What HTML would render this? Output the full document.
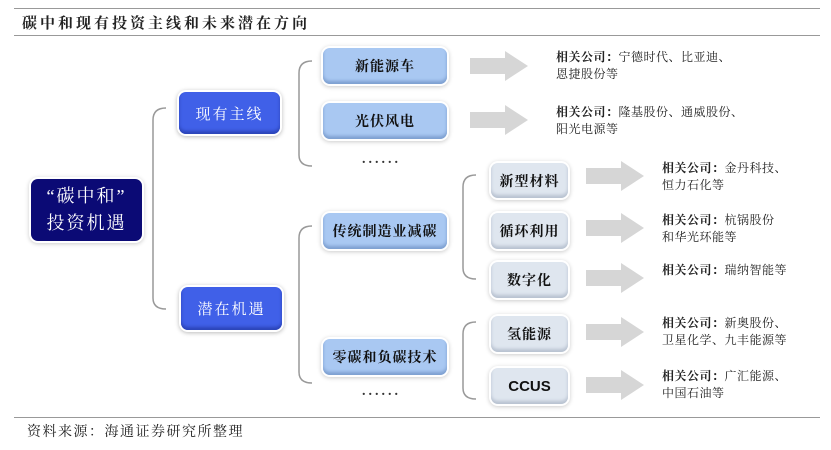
<!DOCTYPE html>
<html><head><meta charset="utf-8"><style>
body{margin:0;width:831px;height:450px;background:#fff;position:relative;overflow:hidden;font-family:"Liberation Serif","Noto Serif CJK SC",serif}
.a{position:absolute}
.b{position:absolute;display:flex;align-items:center;justify-content:center;border-radius:7px;font-weight:bold;font-size:14px;letter-spacing:1px;box-shadow:0 0 0 2px #fff,0 1px 4px 2px #ccc}
.dk{background:#0b0a75;color:#fff;font-size:18px;letter-spacing:2px;line-height:27px;text-align:center;font-weight:normal}
.md{background:#4060e8;color:#fff;font-size:15px;letter-spacing:2px;font-weight:normal;box-shadow:0 0 0 2px #fff,0 1px 4px 2px #bbb,inset 0 -3px 3px #2b44b8}
.lt{background:#a9c8f2;color:#111;box-shadow:0 0 0 2px #fff,0 1px 4px 2px #ccc,inset 0 -3px 3px #7d9fd0}
.gy{background:#dfe6ef;color:#111;box-shadow:0 0 0 2px #fff,0 1px 4px 2px #ccc,inset 0 -3px 3px #b8c2d0}
.t{position:absolute;font-size:12px;line-height:17px;color:#222;letter-spacing:0.5px}
.t b{font-weight:bold}
.dots{position:absolute;font-size:14px;letter-spacing:3px;color:#333;font-weight:bold}
</style></head><body>
<div class="a" style="left:14px;top:8px;width:806px;height:1px;background:#999"></div>
<div class="a" style="left:22px;top:12px;font-size:15px;letter-spacing:3px;font-weight:bold;color:#222">碳中和现有投资主线和未来潜在方向</div>
<div class="a" style="left:14px;top:35px;width:806px;height:1px;background:#999"></div>

<svg class="a" style="left:0;top:0" width="831" height="450">
<g fill="none" stroke="#999" stroke-width="1.5">
<path d="M166 108 Q153 108 153 120 L153 298 Q153 309 166 309"/>
<path d="M312 61 Q299 61 299 73 L299 155 Q299 166 312 166"/>
<path d="M312 226 Q299 226 299 238 L299 372 Q299 383 312 383"/>
<path d="M476 175 Q463 175 463 187 L463 268 Q463 279 476 279"/>
<path d="M476 322 Q463 322 463 334 L463 388 Q463 399 476 399"/>
</g>
<g fill="#d6d6d6">
<path d="M470 58 H505 V51 L528 66 L505 81 V74 H470Z"/>
<path d="M470 112 H505 V105 L528 120 L505 135 V128 H470Z"/>
<path d="M586 168 H621 V161 L644 176 L621 191 V184 H586Z"/>
<path d="M586 220 H621 V213 L644 228 L621 243 V236 H586Z"/>
<path d="M586 270 H621 V263 L644 278 L621 293 V286 H586Z"/>
<path d="M586 324 H621 V317 L644 332 L621 347 V340 H586Z"/>
<path d="M586 377 H621 V370 L644 385 L621 400 V393 H586Z"/>
</g>
</svg>

<div class="b dk" style="left:31px;top:179px;width:111px;height:62px">“碳中和”<br>投资机遇</div>
<div class="b md" style="left:179px;top:92px;width:101px;height:42px">现有主线</div>
<div class="b md" style="left:181px;top:287px;width:101px;height:43px">潜在机遇</div>

<div class="b lt" style="left:323px;top:48px;width:124px;height:36px">新能源车</div>
<div class="b lt" style="left:323px;top:103px;width:124px;height:36px">光伏风电</div>
<div class="dots" style="left:362px;top:152px">......</div>
<div class="b lt" style="left:323px;top:213px;width:124px;height:36px">传统制造业减碳</div>
<div class="b lt" style="left:323px;top:339px;width:124px;height:36px">零碳和负碳技术</div>
<div class="dots" style="left:362px;top:384px">......</div>

<div class="b gy" style="left:491px;top:163px;width:77px;height:35px">新型材料</div>
<div class="b gy" style="left:491px;top:213px;width:77px;height:36px">循环利用</div>
<div class="b gy" style="left:491px;top:262px;width:77px;height:36px">数字化</div>
<div class="b gy" style="left:491px;top:316px;width:77px;height:36px">氢能源</div>
<div class="b gy" style="left:491px;top:368px;width:77px;height:36px;font-family:'Liberation Sans',sans-serif;font-size:15px;letter-spacing:0">CCUS</div>

<div class="t" style="left:556px;top:49px"><b>相关公司：</b>宁德时代、比亚迪、<br>恩捷股份等</div>
<div class="t" style="left:556px;top:104px"><b>相关公司：</b>隆基股份、通威股份、<br>阳光电源等</div>
<div class="t" style="left:662px;top:160px"><b>相关公司：</b>金丹科技、<br>恒力石化等</div>
<div class="t" style="left:662px;top:212px"><b>相关公司：</b>杭锅股份<br>和华光环能等</div>
<div class="t" style="left:662px;top:262px"><b>相关公司：</b>瑞纳智能等</div>
<div class="t" style="left:662px;top:315px"><b>相关公司：</b>新奥股份、<br>卫星化学、九丰能源等</div>
<div class="t" style="left:662px;top:368px"><b>相关公司：</b>广汇能源、<br>中国石油等</div>

<div class="a" style="left:14px;top:417px;width:806px;height:1px;background:#999"></div>
<div class="a" style="left:27px;top:421px;font-size:14px;letter-spacing:1.5px;color:#222">资料来源：海通证券研究所整理</div>
</body></html>
